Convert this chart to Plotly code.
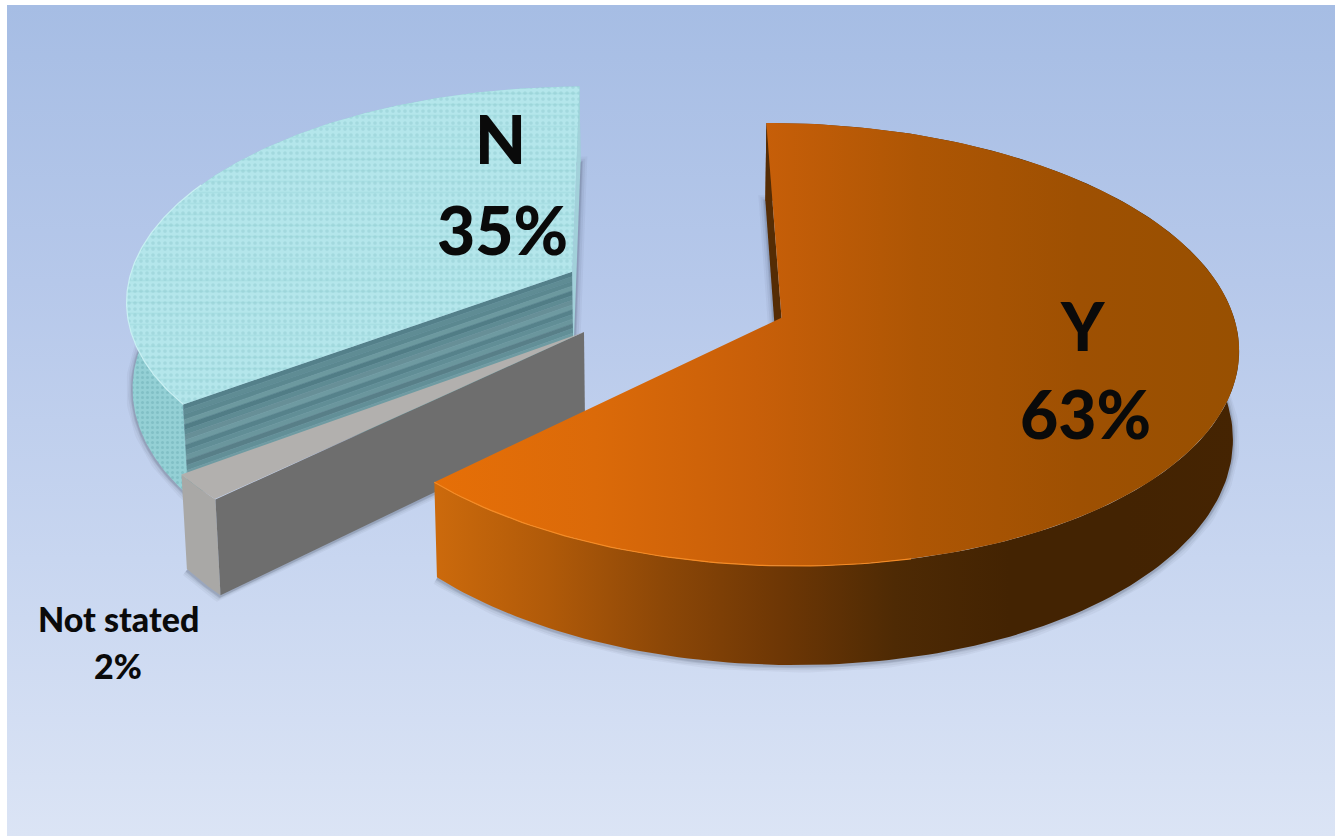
import numpy as np
import plotly.graph_objects as go

# Pie data
labels = ["Y", "Not stated", "N"]
values = [63, 2, 35]

# Pie projection: centre on the vanishing axis, plan-view scale, perspective strength
VX, VY = 674.0, 296.0
SCALE_X, SCALE_Y = 447.0, 213.0
PERSP = 0.12
EXPLODE = 0.258
DEPTH = 86.0
VERTICAL_CONVERGE = 0.011
FIRST_SLICE_ANGLE = np.radians(-0.5)

WIDTH, HEIGHT = 1335, 836


def project(px, pz, lowered=False):
    w = 1 + PERSP * pz
    x = VX + SCALE_X * px / w
    y = VY - SCALE_Y * pz / w
    if lowered:
        x = VX + (x - VX) * (1 - VERTICAL_CONVERGE)
        y = y + DEPTH / w
    return np.asarray(x, dtype=float), np.asarray(y, dtype=float)


def ramp(colors):
    n = len(colors) - 1
    return [[i / n, c] for i, c in enumerate(colors)]


def signed_area(xs, ys):
    return 0.5 * np.sum(xs * np.roll(ys, -1) - np.roll(xs, -1) * ys)


fig = go.Figure()


def poly(xs, ys, **kw):
    fig.add_trace(go.Scatter(x=np.asarray(xs), y=np.asarray(ys), mode="lines", fill="toself",
                             line=kw.pop("line", dict(width=0)), hoverinfo="skip",
                             showlegend=False, **kw))


def stroke(xs, ys, color, width):
    fig.add_trace(go.Scatter(x=np.asarray(xs), y=np.asarray(ys), mode="lines",
                             line=dict(color=color, width=width), hoverinfo="skip",
                             showlegend=False))


# Backdrop gradient, listed bottom to top because the y axis runs downward
poly([7, WIDTH, WIDTH, 7, 7], [5, 5, HEIGHT, HEIGHT, 5],
     fillgradient=dict(type="vertical",
                       colorscale=ramp(["#DBE4F5", "#C8D6F0", "#B6C8EA", "#A6BDE4"])))

styles = {
    "Y": dict(
        top=dict(fillgradient=dict(type="horizontal", colorscale=ramp(
            ["#E66F07", "#DB6A09", "#C85F09", "#AE5604", "#9E5002", "#985001"]))),
        rim=dict(fillgradient=dict(type="horizontal", colorscale=ramp(
            ["#CC6A0C", "#B05A09", "#8C4707", "#6E3705", "#4E2A04", "#432302", "#432302", "#452402"]))),
        start_wall="#552C04", end_wall="#552C04", edge="#F58B25",
        edge_span=(0.74, 1.0),
    ),
    "Not stated": dict(
        top=dict(fillcolor="#B2B0AE"),
        rim=dict(fillcolor="#A9A8A6"),
        start_wall="#6E6E6E", end_wall="#8A8A8A", edge=None,
    ),
    "N": dict(
        top=dict(fillcolor="#B4E6EB",
                 fillpattern=dict(shape=".", fgcolor="#7FBEC6", fgopacity=0.32,
                                  size=6, solidity=0.3)),
        texture=dict(fillcolor="rgba(0,0,0,0)",
                     fillpattern=dict(shape="-", fgcolor="#8CCAD0", fgopacity=0.28,
                                      size=11, solidity=0.16)),
        rim=dict(fillcolor="#94D0D5",
                 fillpattern=dict(shape=".", fgcolor="#62A5AD", fgopacity=0.38,
                                  size=5, solidity=0.3)),
        start_wall=["#54808A", "#5F8C94", "#5B8890", "#6C999F", "#517D86", "#5E8B93",
                    "#678F97", "#6E9AA1", "#56828B", "#618E96", "#6A969D", "#587F88",
                    "#628F97", "#6F9BA2", "#5A8790", "#66939A", "#74A0A6", "#618D95"],
        end_wall="#A2D1DA", edge="#C9F0F3",
        edge_span=(0.0, 0.5),
    ),
}

# Cumulative angles are clockwise from twelve o'clock
fractions = np.array(values, dtype=float) / sum(values)
ends = FIRST_SLICE_ANGLE + np.cumsum(fractions) * 2 * np.pi
starts = ends - fractions * 2 * np.pi

# Painted back to front so nearer slices cover farther ones
for i in sorted(range(len(labels)), key=lambda k: {"N": 0, "Not stated": 1, "Y": 2}[labels[k]]):
    st = styles[labels[i]]
    a0, a1 = starts[i], ends[i]
    mid = (a0 + a1) / 2
    ax, az = EXPLODE * np.sin(mid), EXPLODE * np.cos(mid)
    th = np.linspace(a0, a1, 200)
    rx, rz = ax + np.sin(th), az + np.cos(th)

    tx, ty = project(rx, rz)
    bx, by = project(rx, rz, True)
    atx, aty = project(ax, az)
    abx, aby = project(ax, az, True)

    # Which radial faces turn toward the viewer
    start_q = (np.array([atx, tx[0], bx[0], abx]), np.array([aty, ty[0], by[0], aby]))
    end_q = (np.array([atx, tx[-1], bx[-1], abx]), np.array([aty, ty[-1], by[-1], aby]))
    show_start = signed_area(*start_q) < 0
    show_end = signed_area(*end_q) > 0

    # Soft cast shadow along the lower outline
    sx, sy = list(bx), list(by)
    if show_start:
        sx, sy = [float(abx)] + sx, [float(aby)] + sy
    if show_end:
        sx, sy = sx + [float(abx)], sy + [float(aby)]
    for w, alpha in [(13, 0.05), (9, 0.07), (5, 0.10), (3, 0.14)]:
        stroke(sx, np.array(sy) + 1, f"rgba(55,65,85,{alpha})", w)

    # Outer curved wall
    poly(np.r_[tx, bx[::-1], tx[0]], np.r_[ty, by[::-1], ty[0]], **st["rim"])

    # Radial walls
    for shown, quad, color in [(show_start, start_q, st["start_wall"]),
                               (show_end, end_q, st["end_wall"])]:
        if not shown:
            continue
        qx, qy = quad
        if isinstance(color, list):
            # Layered strata across the wall height
            n = len(color)
            for k, c in enumerate(color):
                f0, f1 = k / n, (k + 1) / n
                lx0 = qx[0] + (qx[3] - qx[0]) * f0
                ly0 = qy[0] + (qy[3] - qy[0]) * f0
                lx1 = qx[0] + (qx[3] - qx[0]) * f1
                ly1 = qy[0] + (qy[3] - qy[0]) * f1
                rx0 = qx[1] + (qx[2] - qx[1]) * f0
                ry0 = qy[1] + (qy[2] - qy[1]) * f0
                rx1 = qx[1] + (qx[2] - qx[1]) * f1
                ry1 = qy[1] + (qy[2] - qy[1]) * f1
                poly([lx0, rx0, rx1, lx1, lx0], [ly0, ry0, ry1, ly1, ly0], fillcolor=c,
                     line=dict(width=0.5, color=c))
        else:
            poly(np.r_[qx, qx[0]], np.r_[qy, qy[0]], fillcolor=color)

    # Top face, with an optional second texture layer
    poly(np.r_[atx, tx, atx], np.r_[aty, ty, aty], **st["top"])
    if "texture" in st:
        poly(np.r_[atx, tx, atx], np.r_[aty, ty, aty], **st["texture"])

    # Bevel highlight along the visible rim
    if st["edge"]:
        j0, j1 = (int(v * (len(th) - 1)) for v in st["edge_span"])
        stroke(tx[j0:j1 + 1], ty[j0:j1 + 1], st["edge"], 1.2)

# Labels
INK = "#0A0A0A"
def label(text, x, y, size):
    fig.add_annotation(x=x, y=y, text=text, showarrow=False, xref="x", yref="y",
                       xanchor="center", yanchor="middle",
                       font=dict(family="Lato", size=size, color=INK, weight=900))

pct = {k: f"{v}%" for k, v in zip(labels, values)}
label("N", 500, 138, 66)
label(pct["N"], 502, 229, 66)
label("Y", 1083, 325, 66)
label(pct["Y"], 1085, 413, 66)
label("Not stated", 118, 618, 34)
label(pct["Not stated"], 118, 665, 34)

fig.update_layout(
    width=WIDTH, height=HEIGHT, margin=dict(l=0, r=0, t=0, b=0),
    paper_bgcolor="white", plot_bgcolor="white", showlegend=False, hovermode=False,
    xaxis=dict(range=[0, WIDTH], visible=False, fixedrange=True),
    yaxis=dict(range=[HEIGHT, 0], visible=False, fixedrange=True),
)
fig.write_html("out.html", config=dict(displayModeBar=False))
